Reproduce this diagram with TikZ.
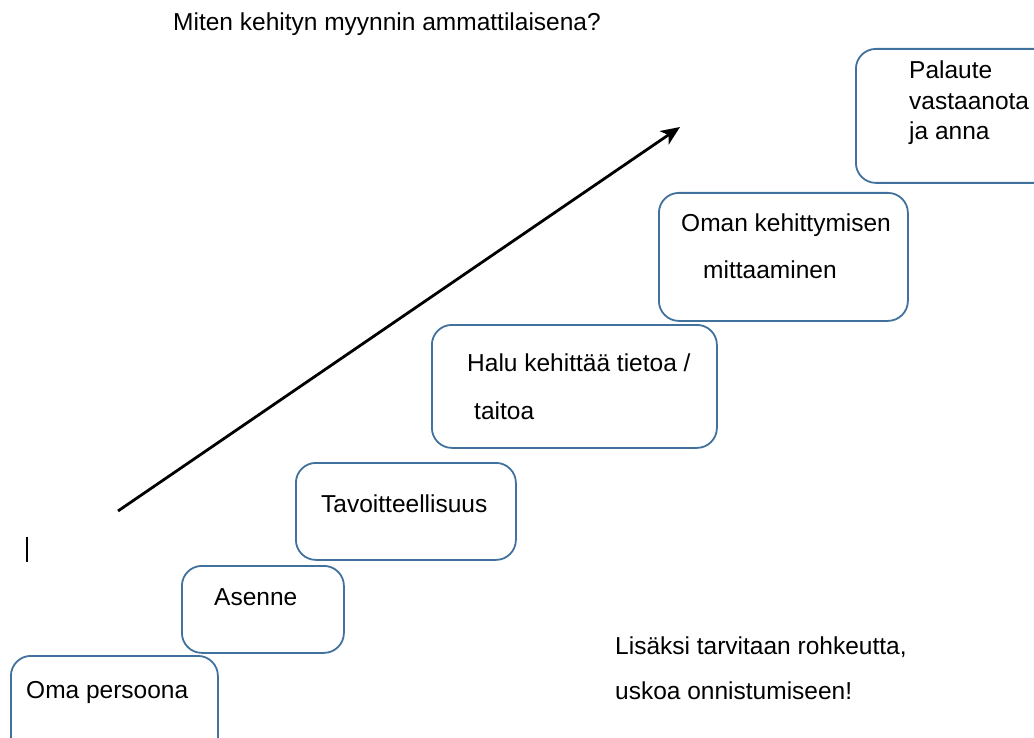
\documentclass[tikz,border=0pt]{standalone}
\usepackage{fontspec}
\setmainfont{Liberation Sans}
\usetikzlibrary{arrows.meta}
\begin{document}
\begin{tikzpicture}[x=1pt,y=-1pt,
  stepbox/.style={draw=boxblue,line width=1.8pt,rounded corners=20pt,minimum width=#1,anchor=north west,inner sep=0pt},
  lbl/.style={anchor=base west,inner sep=0pt,font=\fontsize{24.5}{30.5}\selectfont}]
\definecolor{boxblue}{HTML}{41719C}
\useasboundingbox (0,0) rectangle (1034,738);
\clip (0,0) rectangle (1034,738);
\node[stepbox=207pt,minimum height=120pt] (b1) at (10,655) {};
\node[stepbox=162pt,minimum height=87pt] (b2) at (181,565) {};
\node[stepbox=220pt,minimum height=97pt] (b3) at (295,462) {};
\node[stepbox=285pt,minimum height=123pt] (b4) at (431,324) {};
\node[stepbox=249pt,minimum height=128pt] (b5) at (658,192) {};
\node[stepbox=200pt,minimum height=134pt] (b6) at (855,48) {};
\node[lbl] (title) at (173,31) {Miten kehityn myynnin ammattilaisena?};
\node[lbl] (t1) at (26,698) {Oma persoona};
\node[lbl] (t2) at (214,605) {Asenne};
\node[lbl] (t3) at (321,512) {Tavoitteellisuus};
\node[lbl] (t4a) at (467,371) {Halu kehittää tietoa /};
\node[lbl] (t4b) at (474,419) {taitoa};
\node[lbl] (t5a) at (681,232) {Oman kehittymisen};
\node[lbl] (t5b) at (703,279) {mittaaminen};
\node[lbl,align=left,anchor=north west] (t6) at (909,61) {Palaute\\vastaanota\\ja anna};
\node[lbl] (n1) at (615,654) {Lisäksi tarvitaan rohkeutta,};
\node[lbl] (n2) at (615,699) {uskoa onnistumiseen!};
\coordinate (a0) at (118,511);
\coordinate (a1) at (680,127);
\draw[line width=2.8pt,-{Stealth[length=19pt,width=16pt,inset=5pt]}] (a0) -- (a1);
\coordinate (c0) at (27,537);
\coordinate (c1) at (27,562);
\draw[line width=2.4pt] (c0) -- (c1);
\end{tikzpicture}
\end{document}
